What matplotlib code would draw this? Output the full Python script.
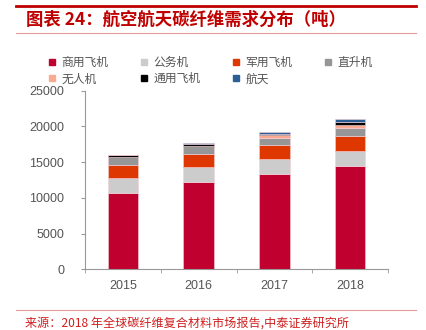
import matplotlib.pyplot as plt
import numpy as np
from matplotlib.lines import Line2D

plt.rcParams['font.family'] = ['Liberation Sans', 'Noto Sans CJK SC', 'DejaVu Sans']

years = ['2015', '2016', '2017', '2018']
series_names = ['商用飞机', '公务机', '军用飞机', '直升机', '无人机', '通用飞机', '航天']
commercial = [10750, 12290, 13310, 14400]
business = [2000, 2000, 2100, 2200]
military = [1910, 1810, 1960, 2100]
helicopter = [1060, 1150, 980, 1070]
uav = [50, 60, 400, 470]
general = [170, 180, 200, 370]
space = [100, 150, 200, 370]
series_values = [commercial, business, military, helicopter, uav, general, space]
colors = ['#C0002F', '#CCCCCC', '#DE3800', '#969696', '#F9AA90', '#000000', '#2A5F96']

fig = plt.figure(figsize=(4.26, 3.30), dpi=100)
ax = fig.add_axes([85/426, 1 - 269.3/330, (388 - 85)/426, (269.3 - 90.7)/330])

x = np.arange(len(years))
bottom = np.zeros(len(years))
for name, vals, c in zip(series_names, series_values, colors):
    ax.bar(x, vals, width=0.4, bottom=bottom, color=c, edgecolor='#F4D0D8',
           linewidth=0.4, label=name)
    bottom += np.array(vals)

ax.set_xlim(-0.5, 3.5)
ax.set_ylim(0, 25000)
ax.set_yticks(range(0, 25001, 5000))
ax.set_xticks(x)
ax.set_xticklabels(years)
ax.set_xticks(np.arange(-0.5, 3.6, 1), minor=True)
ax.tick_params(axis='x', which='major', length=0, pad=8, labelsize=9, labelcolor='#555555')
ax.tick_params(axis='x', which='minor', length=3, color='#999999', direction='out')
ax.tick_params(axis='y', length=3, color='#999999', labelsize=9, labelcolor='#555555', pad=12)
for s in ['top', 'right']:
    ax.spines[s].set_visible(False)
ax.spines['left'].set_color('#999999')
ax.spines['bottom'].set_color('#999999')
ax.spines['left'].set_linewidth(0.8)
ax.spines['bottom'].set_linewidth(0.8)

# legend fills by column, so reorder to read row by row
order = [0, 4, 1, 5, 2, 6, 3]
handles = [Line2D([], [], marker='s', linestyle='', markersize=5, color=colors[i]) for i in order]
labels = [series_names[i] for i in order]
leg = fig.legend(handles, labels, loc='upper left', bbox_to_anchor=(44/426, 1 - 51/330),
                 ncol=4, frameon=False, handlelength=0.6, handletextpad=0.5,
                 columnspacing=2.7, labelspacing=0.3, borderaxespad=0,
                 prop={'family': ['Noto Sans CJK SC'], 'size': 8.5})
for t in leg.get_texts():
    t.set_color('#555555')

red = '#C00000'
fig.add_artist(Line2D([16/426, 416/426], [1 - 6/330, 1 - 6/330], color=red, linewidth=2))
fig.add_artist(Line2D([16/426, 416/426], [1 - 33/330, 1 - 33/330], color='#E79999', linewidth=0.8))
fig.add_artist(Line2D([16/426, 416/426], [1 - 310/330, 1 - 310/330], color='#E79999', linewidth=0.8))
fig.text(26/426, 1 - 20/330, '图表 24：航空航天碳纤维需求分布（吨）', color=red, fontsize=12.5,
         fontweight='bold', fontstyle='italic', va='center', ha='left',
         family=['Noto Sans CJK SC', 'DejaVu Sans'])
fig.text(25/426, 1 - 323/330, '来源：2018 年全球碳纤维复合材料市场报告,中泰证券研究所', color='#D02020',
         fontsize=8.7, va='center', ha='left', family=['Noto Sans CJK SC', 'DejaVu Sans'])

fig.savefig('out.png', dpi=100)
